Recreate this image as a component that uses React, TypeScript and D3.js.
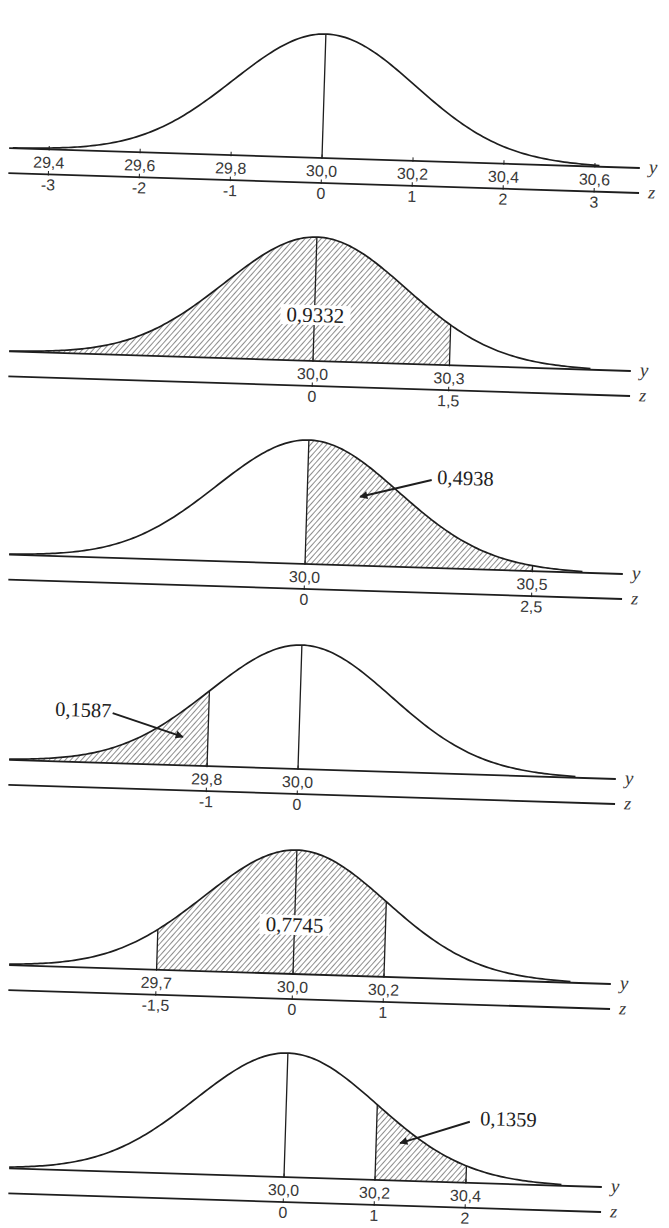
import React from 'react';
import * as d3 from 'd3';

// Normal distribution N(30,0 ; 0,2) – six views of the same curve
const MEAN = 30.0;
const SD = 0.2;

// y-values labelled on each axis, top panel to bottom panel
const ticks1 = [29.4, 29.6, 29.8, 30.0, 30.2, 30.4, 30.6];
const ticks2 = [30.0, 30.3];
const ticks3 = [30.0, 30.5];
const ticks4 = [29.8, 30.0];
const ticks5 = [29.7, 30.0, 30.2];
const ticks6 = [30.0, 30.2, 30.4];
const panelTicks = [ticks1, ticks2, ticks3, ticks4, ticks5, ticks6];

// shaded interval (y-units); null on the low side = open left tail
const shadeLow: (number | null)[] = [null, null, 30.0, null, 29.7, 30.2];
const shadeHigh: (number | null)[] = [null, 30.3, 30.5, 29.8, 30.2, 30.4];
const isShaded = [false, true, true, true, true, true];

// probability of each shaded area
const areaValues: (number | null)[] = [null, 0.9332, 0.4938, 0.1587, 0.7745, 0.1359];

// ---- layout ----
const W = 669;
const H = 1228;
const SIGMA_PX = 91;
const PEAK_PX = 124;
const TILT = 1.8;
const Z_GAP = 25;
const AXIS_END = 318;
const LEFT_EDGE = 9;
const origins: [number, number][] = [
  [322, 158],
  [313, 361],
  [305, 564],
  [298, 769],
  [293, 974],
  [284, 1177],
];

type Callout =
  | { kind: 'none' }
  | { kind: 'box'; cx: number; cy: number }
  | { kind: 'arrow'; tx: number; ty: number; x1: number; y1: number; x2: number; y2: number };

const callouts: Callout[] = [
  { kind: 'none' },
  { kind: 'box', cx: 1, cy: -46 },
  { kind: 'arrow', tx: 129.5, ty: -84, x1: 124, y1: -88, x2: 53, y2: -69 },
  { kind: 'arrow', tx: -244.6, ty: -45.5, x1: -187, y1: -50, x2: -116, y2: -28.5 },
  { kind: 'box', cx: 0, cy: -49 },
  { kind: 'arrow', tx: 194.4, ty: -58, x1: 184, y1: -61, x2: 115, y2: -37.5 },
];

const INK = '#1e1e1e';
const LABEL_INK = '#383838';
const SANS = "'Liberation Sans', Arial, sans-serif";
const SERIF = "'Liberation Serif', 'Times New Roman', serif";

const x = d3.scaleLinear().domain([MEAN - SD, MEAN + SD]).range([-SIGMA_PX, SIGMA_PX]);
const h = d3.scaleLinear().domain([0, 1]).range([0, -PEAK_PX]);
const density = (v: number) => Math.exp(-0.5 * ((v - MEAN) / SD) ** 2);

const fmtY = (v: number) => v.toFixed(1).replace('.', ',');
const fmtZ = (v: number) => {
  const z = Math.round(((v - MEAN) / SD) * 10) / 10;
  return String(z === 0 ? 0 : z).replace('.', ',');
};
const fmtP = (v: number) => v.toFixed(4).replace('.', ',');

function samples(lo: number, hi: number): number[] {
  const step = (hi - lo) / 200;
  const pts = d3.range(lo, hi, step);
  pts.push(hi);
  return pts;
}

const curveLine = d3
  .line<number>()
  .x((v) => x(v))
  .y((v) => h(density(v)));

const curveArea = d3
  .area<number>()
  .x((v) => x(v))
  .y0(0)
  .y1((v) => h(density(v)));

function Panel({ i }: { i: number }) {
  const [ox, oy] = origins[i];
  const lo = Math.max(MEAN - 3.4 * SD, x.invert(LEFT_EDGE - ox));
  const hi = MEAN + 3.05 * SD;
  const pts = samples(lo, hi);
  const ticks = panelTicks[i];
  const sLo = shadeLow[i] ?? lo;
  const sHi = shadeHigh[i] ?? hi;
  const bounds = [shadeLow[i], shadeHigh[i]].filter((b): b is number => b !== null && b !== MEAN);
  const c = callouts[i];
  const val = areaValues[i];

  return (
    <g transform={`translate(${ox},${oy}) rotate(${TILT})`}>
      {isShaded[i] && <path d={curveArea(samples(sLo, sHi)) ?? ''} fill="url(#hatch)" stroke="none" />}
      {isShaded[i] &&
        bounds.map((b) => (
          <line key={b} x1={x(b)} x2={x(b)} y1={0} y2={h(density(b))} stroke={INK} strokeWidth={1.3} />
        ))}
      <line x1={x(MEAN)} x2={x(MEAN)} y1={0} y2={h(density(MEAN))} stroke={INK} strokeWidth={1.3} />
      <path d={curveLine(pts) ?? ''} fill="none" stroke={INK} strokeWidth={1.7} />

      {/* y axis and z axis */}
      <line x1={LEFT_EDGE - ox} x2={AXIS_END} y1={0} y2={0} stroke={INK} strokeWidth={1.8} />
      <line x1={LEFT_EDGE - ox} x2={AXIS_END} y1={Z_GAP} y2={Z_GAP} stroke={INK} strokeWidth={1.8} />
      <text x={AXIS_END + 9} y={5} fontFamily={SERIF} fontStyle="italic" fontSize={19} fill={LABEL_INK}>
        y
      </text>
      <text x={AXIS_END + 9} y={Z_GAP + 5} fontFamily={SERIF} fontStyle="italic" fontSize={18} fill={LABEL_INK}>
        z
      </text>

      {ticks.map((t) => (
        <g key={t} transform={`translate(${x(t)},0)`}>
          <line y1={-3.5} y2={1} stroke={INK} strokeWidth={1} />
          <line y1={Z_GAP - 3.5} y2={Z_GAP + 1} stroke={INK} strokeWidth={1} />
          <text y={18.5} textAnchor="middle" fontFamily={SANS} fontSize={16} fill={LABEL_INK}>
            {fmtY(t)}
          </text>
          <text y={41} textAnchor="middle" fontFamily={SANS} fontSize={16} fill={LABEL_INK}>
            {fmtZ(t)}
          </text>
        </g>
      ))}

      {val !== null && c.kind === 'box' && (
        <g>
          <rect x={c.cx - 35} y={c.cy - 10} width={70} height={20} fill="#ffffff" />
          <text x={c.cx} y={c.cy + 7} textAnchor="middle" fontFamily={SERIF} fontSize={21} fill={INK}>
            {fmtP(val)}
          </text>
        </g>
      )}
      {val !== null && c.kind === 'arrow' && (
        <g>
          <line x1={c.x1} y1={c.y1} x2={c.x2} y2={c.y2} stroke={INK} strokeWidth={2} markerEnd="url(#arrowhead)" />
          <text x={c.tx} y={c.ty} fontFamily={SERIF} fontSize={20.5} fill={INK}>
            {fmtP(val)}
          </text>
        </g>
      )}
    </g>
  );
}

export default function App() {
  return (
    <svg
      width={W}
      height={H}
      viewBox={`0 0 ${W} ${H}`}
      style={{ position: 'absolute', left: 0, top: 0, background: '#ffffff' }}
    >
      <defs>
        <pattern id="hatch" patternUnits="userSpaceOnUse" width={4} height={4} patternTransform="rotate(40)">
          <line x1={0} y1={0} x2={0} y2={4} stroke="#262626" strokeWidth={1.05} />
        </pattern>
        <marker
          id="arrowhead"
          viewBox="0 0 10 10"
          refX={9}
          refY={5}
          markerUnits="userSpaceOnUse"
          markerWidth={13}
          markerHeight={8}
          orient="auto"
        >
          <path d="M0,0 L10,5 L0,10 z" fill={INK} />
        </marker>
      </defs>
      <rect width={W} height={H} fill="#ffffff" />
      {origins.map((_, i) => (
        <Panel key={i} i={i} />
      ))}
    </svg>
  );
}
